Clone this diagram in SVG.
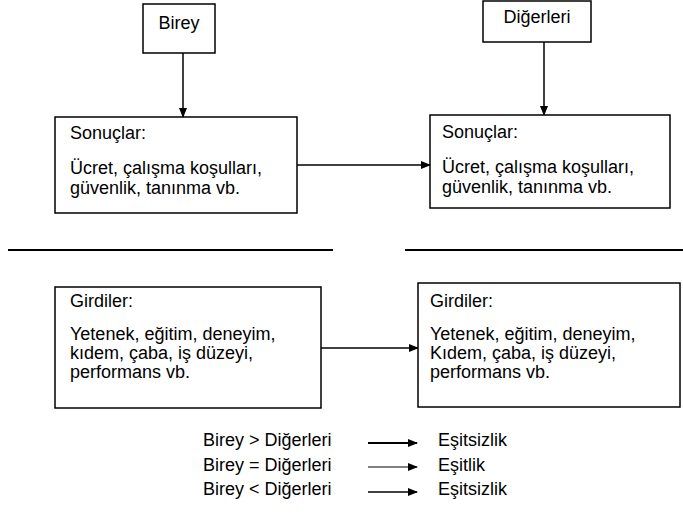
<svg xmlns="http://www.w3.org/2000/svg" width="683" height="519" viewBox="0 0 683 519">
<defs>
<marker id="ah" markerWidth="10" markerHeight="8" refX="9" refY="4" orient="auto" markerUnits="userSpaceOnUse">
<path d="M0,0 L10,4 L0,8 Z" fill="#000"/>
</marker>
<style>
.box{fill:#fff;stroke:#000;stroke-width:1.5}
.t{font-family:"Liberation Sans",Arial,sans-serif;font-size:18px;fill:#000}
.c{stroke:#000;stroke-width:1.5;fill:none}
.sep{stroke:#000;stroke-width:2}
</style>
</defs>
<rect width="683" height="519" fill="#fff"/>
<g id="connectors">
<line class="c" x1="183" y1="53" x2="183" y2="117" marker-end="url(#ah)"/>
<line class="c" x1="544" y1="42" x2="544" y2="115" marker-end="url(#ah)"/>
<line class="c" x1="297" y1="165" x2="430" y2="165" marker-end="url(#ah)"/>
<line class="c" x1="321" y1="348" x2="418" y2="348" marker-end="url(#ah)"/>
</g>
<g id="separators">
<line class="sep" x1="8" y1="250" x2="333" y2="250"/>
<line class="sep" x1="405" y1="250" x2="683" y2="250"/>
</g>
<g id="birey">
<rect class="box" x="143" y="4" width="72" height="49"/>
<text class="t" x="179" y="29" text-anchor="middle">Birey</text>
</g>
<g id="digerleri">
<rect class="box" x="483" y="1" width="108" height="41"/>
<text class="t" x="537" y="23" text-anchor="middle">Diğerleri</text>
</g>
<g id="sonuclar-birey">
<rect class="box" x="55" y="117" width="242" height="96"/>
<text class="t" x="70" y="139">Sonuçlar:</text>
<text class="t" x="70" y="174">Ücret, çalışma koşulları,</text>
<text class="t" x="70" y="194">güvenlik, tanınma vb.</text>
</g>
<g id="sonuclar-digerleri">
<rect class="box" x="430" y="115" width="240" height="93"/>
<text class="t" x="442" y="138">Sonuçlar:</text>
<text class="t" x="442" y="173">Ücret, çalışma koşulları,</text>
<text class="t" x="442" y="193">güvenlik, tanınma vb.</text>
</g>
<g id="girdiler-birey">
<rect class="box" x="55" y="287" width="266" height="121"/>
<text class="t" x="70" y="307">Girdiler:</text>
<text class="t" x="70" y="340">Yetenek, eğitim, deneyim,</text>
<text class="t" x="70" y="359">kıdem, çaba, iş düzeyi,</text>
<text class="t" x="70" y="378">performans vb.</text>
</g>
<g id="girdiler-digerleri">
<rect class="box" x="418" y="283" width="262" height="124"/>
<text class="t" x="430" y="307">Girdiler:</text>
<text class="t" x="430" y="340">Yetenek, eğitim, deneyim,</text>
<text class="t" x="430" y="359">Kıdem, çaba, iş düzeyi,</text>
<text class="t" x="430" y="378">performans vb.</text>
</g>
<g id="legend">
<text class="t" x="203" y="446">Birey &gt; Diğerleri</text>
<line x1="368" y1="443" x2="417" y2="443" stroke="#000" stroke-width="2.2" marker-end="url(#ah)"/>
<text class="t" x="438" y="446">Eşitsizlik</text>
<text class="t" x="203" y="471">Birey = Diğerleri</text>
<line x1="368" y1="467" x2="417" y2="467" stroke="#000" stroke-width="1" marker-end="url(#ah)"/>
<text class="t" x="438" y="471">Eşitlik</text>
<text class="t" x="203" y="495">Birey &lt; Diğerleri</text>
<line x1="368" y1="492" x2="417" y2="492" stroke="#000" stroke-width="1.5" marker-end="url(#ah)"/>
<text class="t" x="438" y="495">Eşitsizlik</text>
</g>
</svg>
